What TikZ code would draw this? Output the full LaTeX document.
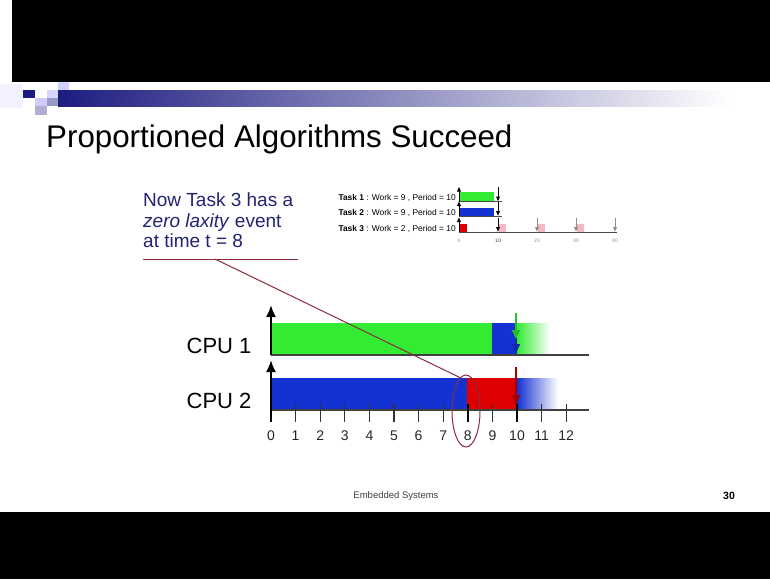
\documentclass[tikz,border=0pt]{standalone}
\usepackage{fontspec}
\setmainfont{Liberation Sans}
\usetikzlibrary{arrows.meta,shapes.geometric}
\definecolor{navy}{RGB}{28,28,128}
\definecolor{txtblue}{RGB}{35,35,115}
\definecolor{maroon}{RGB}{140,45,60}
\definecolor{cgreen}{RGB}{50,235,50}
\definecolor{cblue}{RGB}{20,50,210}
\definecolor{cred}{RGB}{222,0,0}
\definecolor{darkred}{RGB}{165,0,0}
\definecolor{cpink}{RGB}{244,184,198}
\begin{document}
\begin{tikzpicture}[x=1pt,y=-1pt,
  axis/.style={line width=2pt,-{Latex[length=12pt,width=10pt]}},
  baseln/.style={line width=1.2pt,draw=black!75},
  tickln/.style={line width=1.2pt,draw=black!80},
  btick/.style={line width=2.6pt,draw=black},
  lbl/.style={font=\fontsize{14}{16}\selectfont,text=black!85},
  cpu/.style={font=\fontsize{22}{26}\selectfont,anchor=base east},
  small/.style={font=\fontsize{8.4}{10}\selectfont,anchor=base west},
  saxis/.style={line width=0.9pt,-{Latex[length=5pt,width=4.5pt]}},
  sdown/.style={line width=0.8pt,-{Latex[length=5pt,width=4.5pt]}},
  sbase/.style={line width=0.7pt,draw=black!70},
  slbl/.style={font=\fontsize{5}{6}\selectfont,text=black!45},
  dnarrow/.style={line width=2pt,-{Latex[length=11pt,width=9pt]}}]
\useasboundingbox (0,0) rectangle (770,579);
\fill[white] (0,0) rectangle (770,579);
% black bars
\fill[black] (12,0) rectangle (770,82);
\fill[black] (0,512) rectangle (770,579);
% header decoration
\fill[blue!5!white] (0,84) rectangle (23,108);
\shade[left color=navy,right color=white] (58,90) rectangle (730,106);
\fill[navy] (23,90) rectangle (35,98);
\fill[blue!18!white] (58,82) rectangle (69,90);
\fill[blue!16!white] (47,90) rectangle (58,98);
\fill[blue!20!white] (35,98) rectangle (47,106);
\fill[navy!45!white] (47,98) rectangle (58,106);
\fill[navy!35!white] (35,106) rectangle (47,115);
% title
\node[anchor=base west,inner sep=0pt,font=\fontsize{31.3}{36}\selectfont] (title) at (46,147) {Proportioned Algorithms Succeed};
% callout text
\node[anchor=north west,inner sep=0pt,align=left,text=txtblue,font=\fontsize{19}{20.5}\selectfont] (note) at (143,193)
  {Now Task 3 has a\\\textit{zero laxity} event\\at time t = 8};
\coordinate (ul1) at (143,259);
\coordinate (ul2) at (298,259);
\coordinate (lnk) at (215,259);
\draw[maroon,line width=1pt] (ul1) -- (ul2);
% small task chart
\node[small] (task1) at (335,200) {\textbf{Task 1} : Work = 9 , Period = 10};
\node[small] (task2) at (335,215) {\textbf{Task 2} : Work = 9 , Period = 10};
\node[small] (task3) at (335,231) {\textbf{Task 3} : Work = 2 , Period = 10};
\fill[cgreen] (459,192) rectangle (494,201.5);
\fill[cblue] (459,207.5) rectangle (494,216);
\fill[cred] (459,224) rectangle (467,232);
\foreach \k in {0,1,2} {
  \fill[cpink] ({498+39*\k+1},224) rectangle ({498+39*\k+8},232);
}
\coordinate (s1o) at (459,201.5);
\coordinate (s1e) at (502,201.5);
\coordinate (s2o) at (459,216);
\coordinate (s2e) at (502,216);
\coordinate (s3o) at (459,232);
\coordinate (s3e) at (617,232);
\draw[sbase] (s1o) -- (s1e);
\draw[sbase] (s2o) -- (s2e);
\draw[sbase] (s3o) -- (s3e);
\draw[saxis] (s1o) -- +(0,-15);
\draw[saxis] (s2o) -- +(0,-15);
\draw[saxis] (s3o) -- +(0,-15);
\draw[sdown] (498,187) -- (498,201.5);
\draw[sdown] (498,202) -- (498,216);
\draw[sdown] (498,218) -- (498,232);
\foreach \k in {2,3,4} {
  \draw[sdown,black!45] ({459+39*\k},218) -- ({459+39*\k},232);
}
\node[slbl] (sl0) at (459,241) {0};
\node[slbl,text=black!80] (sl10) at (498,241) {10};
\node[slbl] (sl20) at (537,241) {20};
\node[slbl] (sl30) at (576,241) {30};
\node[slbl] (sl40) at (615,241) {40};
% main chart: CPU 1
\fill[cgreen] (271,323) rectangle (492,355);
\fill[cblue] (492,323) rectangle (517,355);
\shade[left color=cgreen,right color=white] (517,323) rectangle (550,355);
\coordinate (o1) at (271,355);
\coordinate (e1) at (589,355);
\draw[baseln] (o1) -- (e1);
\draw[axis] (o1) -- (271,305);
\node[cpu] (cpu1) at (255,353) {CPU 1};
\draw[dnarrow,cgreen!80!black] (516,313) -- (516,341);
\draw[dnarrow,cblue!80!black] (516,338) -- (516,355);
% main chart: CPU 2
\fill[cblue] (271,378) rectangle (467,410);
\fill[cred] (467,378) rectangle (517,410);
\shade[left color=cblue,right color=white] (517,378) rectangle (558,410);
\coordinate (o2) at (271,410);
\coordinate (e2) at (589,410);
\draw[baseln] (o2) -- (e2);
\draw[axis] (271,422) -- (271,360);
\node[cpu] (cpu2) at (255,408) {CPU 2};
\draw[dnarrow,darkred] (516,367) -- (516,406);
% ticks and labels
\foreach \i in {1,...,12} {
  \ifnum\i=8
    \draw[btick] ({271+24.6*\i},404) -- ({271+24.6*\i},422);
  \else\ifnum\i=10
    \draw[btick] ({271+24.6*\i},404) -- ({271+24.6*\i},422);
  \else
    \draw[tickln] ({271+24.6*\i},404) -- ({271+24.6*\i},422);
  \fi\fi
}
\foreach \i in {0,...,12} {
  \node[lbl] (n\i) at ({271+24.6*\i},436) {\i};
}
% zero-laxity event marker
\node[draw=maroon,line width=1pt,ellipse,minimum width=28pt,minimum height=72pt,inner sep=0pt] (ev) at (466,411) {};
\draw[maroon,line width=1pt] (lnk) -- (ev.100);
% footer
\node[font=\fontsize{9.5}{11}\selectfont,text=black!75] (foot) at (396,496) {Embedded Systems};
\node[font=\bfseries\fontsize{10.5}{12}\selectfont] (page) at (729,496) {30};
\end{tikzpicture}
\end{document}
